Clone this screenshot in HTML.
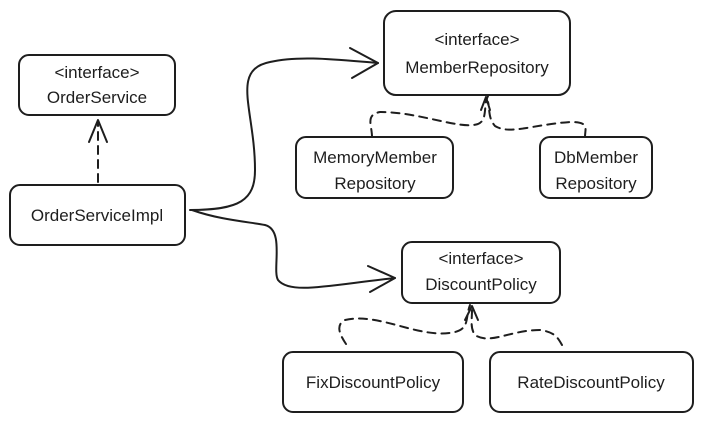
<!DOCTYPE html>
<html><head><style>
html,body{margin:0;padding:0;background:#fff;}
svg{display:block}
text{font-family:"Comic Sans MS","Liberation Sans",sans-serif;font-size:17px;fill:#1e1e1e;text-anchor:middle}
</style></head><body>
<svg width="703" height="423" viewBox="0 0 703 423">
<g fill="none" stroke="#1e1e1e" stroke-width="2" stroke-linecap="round" stroke-linejoin="round">
<rect x="19" y="55" width="156" height="60" rx="10"/>
<rect x="384" y="11" width="186" height="84" rx="12"/>
<rect x="10" y="185" width="175" height="60" rx="10"/>
<rect x="296" y="137" width="157" height="61" rx="10"/>
<rect x="540" y="137" width="112" height="61" rx="10"/>
<rect x="402" y="242" width="158" height="61" rx="10"/>
<rect x="283" y="352" width="180" height="60" rx="10"/>
<rect x="490" y="352" width="203" height="60" rx="10"/>
<path d="M98 182 L98 122" stroke-dasharray="8 6"/>
<path d="M89 142 L98 120 L107 142"/>
<path d="M190 210 C240 210 255 200 255 170 C255 110 230 70 270 62 C300 55 340 60 378 63"/>
<path d="M350 48 L378 63 L352 78"/>
<path d="M192 210 C220 220 250 222 265 225 C285 230 272 270 278 280 C290 295 330 285 395 278"/>
<path d="M368 266 L395 278 L370 292"/>
<path d="M372 137 C372 125 365 115 380 112 C420 112 460 130 478 124 C488 120 483 105 488 96" stroke-dasharray="8 6"/>
<path d="M585 137 C585 128 590 122 570 122 C530 125 510 135 495 126 C488 118 490 110 488 102" stroke-dasharray="8 6"/>
<path d="M481 110 L486 97 L490 110"/>
<path d="M346 344 C340 335 335 325 345 320 C380 312 420 340 455 332 C470 328 465 318 470 305" stroke-dasharray="8 6"/>
<path d="M562 345 C558 338 555 332 540 330 C510 330 490 345 475 335 C470 328 472 320 472 310" stroke-dasharray="8 6"/>
<path d="M465 320 L472 306 L478 320"/>
</g>
<text x="97" y="78">&lt;interface&gt;</text>
<text x="97" y="103">OrderService</text>
<text x="477" y="45">&lt;interface&gt;</text>
<text x="477" y="73">MemberRepository</text>
<text x="97" y="221">OrderServiceImpl</text>
<text x="375" y="163">MemoryMember</text>
<text x="375" y="189">Repository</text>
<text x="596" y="163">DbMember</text>
<text x="596" y="189">Repository</text>
<text x="481" y="264">&lt;interface&gt;</text>
<text x="481" y="290">DiscountPolicy</text>
<text x="373" y="388">FixDiscountPolicy</text>
<text x="591" y="388">RateDiscountPolicy</text>
</svg>
</body></html>
